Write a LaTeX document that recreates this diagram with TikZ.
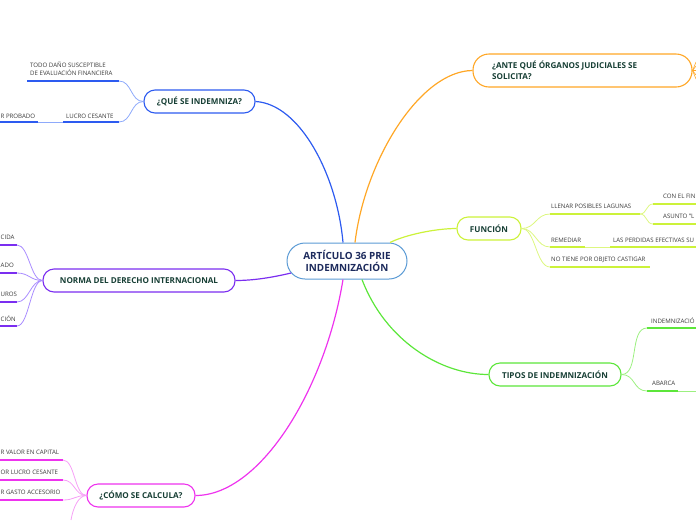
\documentclass[tikz,border=0pt]{standalone}
\usepackage{fontspec}
\setmainfont{Open Sans}
\definecolor{cblue}{HTML}{2D5BF0}
\definecolor{lblue}{HTML}{8EAAFB}
\definecolor{cpur}{HTML}{7B2EF0}
\definecolor{lpur}{HTML}{A98CFF}
\definecolor{cmag}{HTML}{EE33EE}
\definecolor{lmag}{HTML}{F6A0F6}
\definecolor{corg}{HTML}{FFA726}
\definecolor{cyel}{HTML}{CCF23A}
\definecolor{lyel}{HTML}{DDF780}
\definecolor{cgrn}{HTML}{5CE63A}
\definecolor{lgrn}{HTML}{9CF080}
\definecolor{cctr}{HTML}{5B9BD5}
\definecolor{ttext}{HTML}{173F35}
\definecolor{ctext}{HTML}{1C2A5C}
\definecolor{stext}{HTML}{3A3A3A}
\tikzset{
  mainbox/.style={draw, line width=1.1pt, fill=white, rounded corners=11pt, inner sep=0pt,
    minimum height=23pt, font=\fontsize{8.1}{9.5}\selectfont\bfseries, text=ttext},
  maintext/.style={inner sep=0pt, font=\fontsize{8.1}{11.5}\selectfont\bfseries, text=ttext},
  ctrbox/.style={draw=cctr, line width=1pt, fill=white, rounded corners=18pt, inner sep=0pt,
    minimum width=120pt, minimum height=36pt, align=center,
    font=\fontsize{9.9}{12}\selectfont\bfseries, text=ctext},
  sub/.style={inner sep=0pt, font=\fontsize{6.1}{8}\selectfont, text=stext},
  mainline/.style={line width=1.2pt},
  subline/.style={line width=0.8pt},
  uline/.style={line width=1.5pt},
}
\begin{document}
\begin{tikzpicture}[x=1pt,y=-1pt]
\useasboundingbox (0,0) rectangle (696,520);

% central
\node[ctrbox] (c) at (347,261) {ARTÍCULO 36 PRIE\\INDEMNIZACIÓN};

% main topics
\node[mainbox, draw=cblue, minimum width=111pt] (q) at (199.5,101.5) {¿QUÉ SE INDEMNIZA?};
\node[mainbox, draw=cpur, minimum width=192pt] (n) at (139,280.5) {NORMA DEL DERECHO INTERNACIONAL};
\node[mainbox, draw=cmag, minimum width=108pt] (k) at (141,495.5) {¿CÓMO SE CALCULA?};
\node[mainbox, draw=corg, minimum width=219pt, minimum height=33pt, rounded corners=16pt] (a) at (582.5,70.5) {};
\node[maintext, anchor=west, align=left] (at) at (492,70.5) {¿ANTE QUÉ ÓRGANOS JUDICIALES SE\\SOLICITA?};
\node[mainbox, draw=cyel, minimum width=64pt] (f) at (489,228.5) {FUNCIÓN};
\node[mainbox, draw=cgrn, minimum width=132pt] (t) at (555,374.5) {TIPOS DE INDEMNIZACIÓN};

% main connectors
\draw[mainline, cblue] (q.east) .. controls (300,104) and (337,175) .. ([xshift=-4pt]c.north);
\draw[mainline, corg] ([xshift=8pt]c.north) .. controls (365,160) and (420,71) .. (a.west);
\draw[mainline, cyel] ([xshift=43pt]c.north) .. controls (405,235) and (435,228.5) .. (f.west);
\draw[mainline, cgrn] ([xshift=15pt]c.south) .. controls (385,340) and (440,374.5) .. (t.west);
\draw[mainline, cmag] ([xshift=-4pt]c.south) .. controls (325,390) and (260,495.5) .. (k.east);
\draw[mainline, cpur] ([xshift=4.6pt,yshift=-12pt]c.west) .. controls (270,278) and (252,280.5) .. (n.east);

% --- blue children
\coordinate (q1a) at (27,81); \coordinate (q1) at (119,81);
\draw[uline, cblue] (q1a) -- (q1);
\node[sub, anchor=west, align=left] (q1t) at (30,69) {TODO DAÑO SUSCEPTIBLE\\DE EVALUACIÓN FINANCIERA};
\coordinate (q2a) at (63,122); \coordinate (q2) at (119,122);
\draw[uline, cblue] (q2a) -- (q2);
\node[sub, anchor=west] (q2t) at (66,116) {LUCRO CESANTE};
\coordinate (q3a) at (0,122); \coordinate (q3) at (38,122);
\draw[uline, cblue] (q3a) -- (q3);
\draw[subline, lblue] (q3) -- (q2a);
\node[sub, anchor=west] (q3t) at (0.5,116) {R PROBADO};
\draw[subline, lblue] (q.west) .. controls +(-13,0) and +(13,0) .. (q1);
\draw[subline, lblue] (q.west) .. controls +(-13,0) and +(13,0) .. (q2);

% --- purple children
\foreach \i/\y/\tx in {1/245/CIDA, 2/273/ADO, 3/302/UROS, 4/326/CIÓN}{
  \coordinate (n\i a) at (0,\y); \coordinate (n\i) at (17,\y);
  \draw[uline, cpur] (n\i a) -- (n\i);
  \node[sub, anchor=west] (n\i t) at (0.5,\y-7.5) {\tx};
  \draw[subline, lpur] (n.west) .. controls +(-12,0) and +(12,0) .. (n\i);
}

% --- magenta children
\foreach \i/\y/\tx in {1/460/R VALOR EN CAPITAL, 2/480/OR LUCRO CESANTE, 3/500/R GASTO ACCESORIO}{
  \coordinate (k\i a) at (0,\y); \coordinate (k\i) at (63,\y);
  \draw[uline, cmag] (k\i a) -- (k\i);
  \node[sub, anchor=west] (k\i t) at (0.5,\y-7.5) {\tx};
  \draw[subline, lmag] (k.west) .. controls +(-12,0) and +(12,0) .. (k\i);
}
\coordinate (k4) at (71,520);
\draw[subline, lmag] (k.west) .. controls +(-8,0) and +(2,-12) .. (k4);

% --- orange fan
\foreach \i/\y in {1/62,2/66,3/70.5,4/75,5/79}{
  \coordinate (a\i) at (696,\y);
  \draw[line width=0.6pt, corg] (a.east) -- (a\i);
}

% --- yellow children
\coordinate (y1a) at (550,214); \coordinate (y1) at (640,214);
\draw[uline, cyel] (y1a) -- (y1);
\node[sub, anchor=west] (y1t) at (551,206.5) {LLENAR POSIBLES LAGUNAS};
\coordinate (y2a) at (653,204); \coordinate (y2) at (696,204);
\coordinate (y3a) at (653,224); \coordinate (y3) at (696,224);
\draw[uline, cyel] (y2a) -- (y2);
\draw[uline, cyel] (y3a) -- (y3);
\node[sub, anchor=west] (y2t) at (663,196.5) {CON EL FIN};
\node[sub, anchor=west] (y3t) at (663,216.5) {ASUNTO "L};
\draw[subline, lyel] (y1) .. controls +(7,0) and +(-7,0) .. (y2a);
\draw[subline, lyel] (y1) .. controls +(7,0) and +(-7,0) .. (y3a);
\coordinate (y4a) at (550,247); \coordinate (y4) at (585,247);
\coordinate (y5a) at (610,247); \coordinate (y5) at (696,247);
\draw[uline, cyel] (y4a) -- (y4);
\draw[subline, lyel] (y4) -- (y5a);
\draw[uline, cyel] (y5a) -- (y5);
\node[sub, anchor=west] (y4t) at (551,240) {REMEDIAR};
\node[sub, anchor=west] (y5t) at (613,240) {LAS PERDIDAS EFECTIVAS SU};
\coordinate (y6a) at (550,267); \coordinate (y6) at (650,267);
\draw[uline, cyel] (y6a) -- (y6);
\node[sub, anchor=west] (y6t) at (551,260) {NO TIENE POR OBJETO CASTIGAR};
\draw[subline, lyel] (f.east) .. controls +(14,0) and +(-14,0) .. (y1a);
\draw[subline, lyel] (f.east) .. controls +(14,0) and +(-14,0) .. (y4a);
\draw[subline, lyel] (f.east) .. controls +(14,0) and +(-14,0) .. (y6a);

% --- green children
\coordinate (g1a) at (647,328); \coordinate (g1) at (696,328);
\draw[uline, cgrn] (g1a) -- (g1);
\node[sub, anchor=west] (g1t) at (651,321) {INDEMNIZACIÓ};
\coordinate (g2a) at (647,391); \coordinate (g2) at (678,391); \coordinate (g3) at (696,391);
\draw[uline, cgrn] (g2a) -- (g2);
\draw[subline, lgrn] (g2) -- (g3);
\node[sub, anchor=west] (g2t) at (652,383.5) {ABARCA};
\draw[subline, lgrn] (t.east) .. controls +(18,0) and +(-18,0) .. (g1a);
\draw[subline, lgrn] (t.east) .. controls +(14,0) and +(-14,0) .. (g2a);
\end{tikzpicture}
\end{document}
